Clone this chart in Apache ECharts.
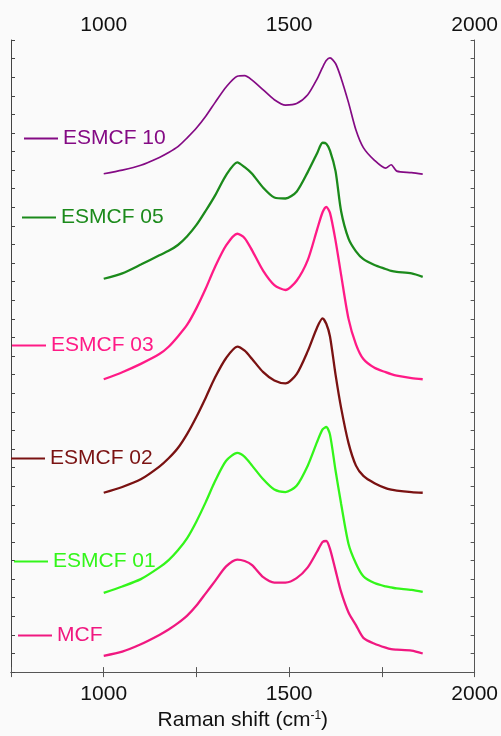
<!DOCTYPE html>
<html>
<head>
<meta charset="utf-8">
<script src="https://cdn.jsdelivr.net/npm/echarts@6/dist/echarts.min.js"></script>
<style>html,body{margin:0;padding:0;background:#fafafa;}#c{width:501px;height:736px;}</style>
</head>
<body>
<div id="c"></div>
<script>
// Raman shift (cm-1) sample positions
const shift = [1000,1050,1100,1150,1175,1200,1225,1250,1275,1300,1330,1360,1380,1400,1430,1460,1490,1520,1550,1575,1590,1600,1610,1625,1640,1660,1680,1700,1730,1760,1775,1790,1830,1860];
// Intensities (a.u., stacked with offsets)
const esmcf10 = [509.3,513,518,526,531,537,546,556,568,582,598,609,609.5,605,595,585,579.5,581,590,606,618,625,627.7,622,607,582,554,536,523,515,518.5,512,510.5,509];
const esmcf05 = [402,407.5,416.5,426,430.5,436.5,445.5,457,471.5,487,508,521,516,509.3,495,485,484,491,511,530,541,540,533,512,471,443,430,422,416,412,410,409,407.5,404];
const esmcf03 = [299.3,306.5,315,325,332.5,343,355,372,392,414,436,448,443.5,431,410,395.5,390.5,400,421,452,470,475.5,469.3,441,406,361,335,320,311,306.5,304.5,303,300.5,299.3];
const esmcf02 = [183.3,189.2,197,210,218.5,229,243.5,261,280.5,301,321,332.7,328.5,320,306.5,298,295,304.5,328,352,361.5,356,343,304,270,234,211,200.5,193,188,186.5,185.5,184,183.3];
const esmcf01 = [81,87.5,95,107,114.5,124.5,137,154,173.7,195,216,224,220,211,197,186.5,184,190.5,211,235,248,250.5,242.7,206,172,131,111,98,91,87.5,86.5,85.5,84,82];
const mcf = [16.7,21,28.5,38,43.5,50,57.7,68,80.5,93,108,115,113.5,109.3,97,91.5,91.5,96,107,123,133,134,126,104,82,61,48,35,29,25,23.5,23,22,19];

const seriesNames = ['ESMCF 10','ESMCF 05','ESMCF 03','ESMCF 02','ESMCF 01','MCF'];
const seriesValues = [esmcf10, esmcf05, esmcf03, esmcf02, esmcf01, mcf];
const seriesColors = ['#840a84','#1b8a1b','#ff1a86','#7a1212','#33f51a','#f01880'];
const legendPos = [[24,128],[22,207],[12,335],[11,448],[14,551],[18,625]];
const xTickLabels = [1000,1500,2000];

const FONT = 'Liberation Sans, Arial, sans-serif';
const chart = echarts.init(document.getElementById('c'));
const series = seriesNames.map((n,k)=>({
  name:n, type:'line', showSymbol:false, smooth:0.25,
  lineStyle:{color:seriesColors[k], width: (k===0?1.7:2.3)},
  itemStyle:{color:seriesColors[k]},
  data: shift.map((x,i)=>[x, seriesValues[k][i]])
}));
const legends = seriesNames.map((n,k)=>({
  data:[n], left:legendPos[k][0], top:legendPos[k][1], padding:0,
  icon:'rect', itemWidth:34, itemHeight:2, selectedMode:false,
  textStyle:{color:seriesColors[k], fontSize:21, fontFamily:FONT}
}));
const axisCommon = {
  type:'value', min:750, max:2000, interval:250,
  axisLine:{show:true, lineStyle:{color:'#555', width:1}},
  axisTick:{show:true, inside:true, length:5, lineStyle:{color:'#555'}},
  splitLine:{show:false},
  axisLabel:{fontSize:21, color:'#111', fontFamily:FONT,
    formatter:v=> xTickLabels.indexOf(v)>=0 ? String(v) : ''}
};
chart.setOption({
  backgroundColor:'#fafafa',
  animation:false,
  grid:{left:11, right:23, top:40, bottom:50},
  legend:legends,
  xAxis:[
    Object.assign({}, axisCommon, {position:'bottom', name:'Raman shift (cm{s|-1})', nameLocation:'middle', nameGap:36,
      nameTextStyle:{fontSize:21, color:'#111', fontFamily:FONT,
        rich:{s:{fontSize:12, verticalAlign:'top', padding:[0,0,8,0], color:'#111', fontFamily:FONT}}},
      axisLabel:Object.assign({}, axisCommon.axisLabel, {margin:12})}),
    Object.assign({}, axisCommon, {position:'top', axisLabel:Object.assign({}, axisCommon.axisLabel, {margin:4})})
  ],
  yAxis:[
    {type:'value', min:0, max:646, interval:19, position:'left',
      axisLine:{show:true, lineStyle:{color:'#444'}}, axisTick:{show:true, inside:true, length:4, lineStyle:{color:'#444'}},
      axisLabel:{show:false}, splitLine:{show:false}},
    {type:'value', min:0, max:646, interval:19, position:'right',
      axisLine:{show:true, lineStyle:{color:'#555'}}, axisTick:{show:true, inside:true, length:4, lineStyle:{color:'#555'}},
      axisLabel:{show:false}, splitLine:{show:false}}
  ],
  series:series
});
</script>
</body>
</html>
